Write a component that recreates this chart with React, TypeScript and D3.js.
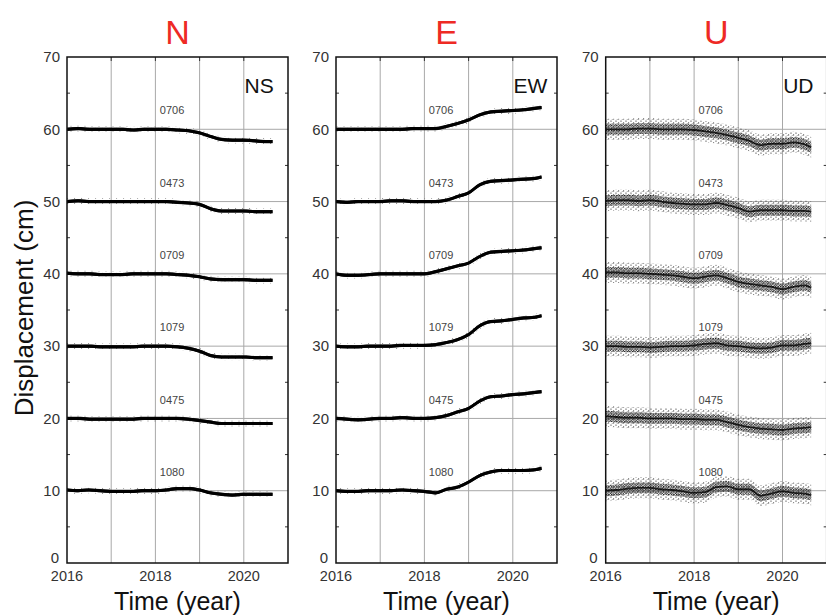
import React from "react";
import * as d3 from "d3";

// ---- data ----
const years = [2016.0, 2016.25, 2016.5, 2016.75, 2017.0, 2017.25, 2017.5, 2017.75, 2018.0, 2018.25, 2018.5, 2018.75, 2019.0, 2019.25, 2019.5, 2019.75, 2020.0, 2020.25, 2020.5, 2020.65];
const stations = ["0706", "0473", "0709", "1079", "0475", "1080"];
const offsets = [60, 50, 40, 30, 20, 10];
const panelTitles = ["N", "E", "U"];
const componentLabels = ["NS", "EW", "UD"];
const yTicks = [0, 10, 20, 30, 40, 50, 60, 70];
const yMinorTicks = [5, 15, 25, 35, 45, 55, 65];
const xTickLabels = [2016, 2018, 2020];
const xGridYears = [2017, 2018, 2019, 2020];

const nsValues = [
  [60, 60.1, 60, 60, 60, 60, 59.9, 60, 60, 60, 59.9, 59.8, 59.5, 59.0, 58.6, 58.5, 58.5, 58.4, 58.3, 58.3],
  [50, 50.1, 50, 50, 50, 50, 50, 50, 50, 50, 49.9, 49.8, 49.6, 49.0, 48.7, 48.7, 48.7, 48.6, 48.6, 48.6],
  [40.1, 40, 40, 39.9, 39.9, 39.9, 40, 40, 40, 40, 39.9, 39.8, 39.6, 39.3, 39.2, 39.2, 39.2, 39.1, 39.1, 39.1],
  [30, 30, 30, 29.9, 29.9, 29.9, 29.9, 30, 30, 30, 29.9, 29.7, 29.3, 28.7, 28.5, 28.5, 28.5, 28.4, 28.4, 28.4],
  [20, 20, 19.9, 19.9, 19.9, 19.9, 19.9, 20, 20, 20, 20, 19.9, 19.7, 19.5, 19.3, 19.3, 19.3, 19.3, 19.3, 19.3],
  [10.1, 10, 10.1, 10, 9.9, 9.9, 9.9, 10, 10, 10.1, 10.3, 10.3, 10.1, 9.7, 9.5, 9.4, 9.5, 9.5, 9.5, 9.5],
];
const ewValues = [
  [60, 60, 60, 60, 60, 60, 60, 60.1, 60.1, 60.1, 60.4, 60.8, 61.3, 62.0, 62.4, 62.5, 62.6, 62.7, 62.9, 63.0],
  [50, 49.9, 50, 50, 50, 50.1, 50.1, 50, 50, 50, 50.2, 50.7, 51.2, 52.3, 52.8, 52.9, 53.0, 53.1, 53.2, 53.4],
  [40, 39.8, 39.8, 39.9, 40, 40, 40, 40, 40, 40.3, 40.7, 41.1, 41.5, 42.4, 43.0, 43.1, 43.2, 43.3, 43.5, 43.6],
  [30, 29.9, 29.9, 30, 30, 30, 30.1, 30.1, 30.1, 30.2, 30.5, 30.9, 31.6, 32.8, 33.4, 33.5, 33.7, 33.9, 34.0, 34.2],
  [20, 19.9, 19.8, 19.9, 20, 20, 20.1, 20, 20, 20.1, 20.4, 20.9, 21.4, 22.4, 23.0, 23.1, 23.3, 23.4, 23.6, 23.7],
  [10, 9.9, 9.9, 10, 10, 10, 10.1, 10, 9.9, 9.7, 10.2, 10.5, 11.2, 12.1, 12.6, 12.8, 12.8, 12.8, 12.9, 13.1],
];
const udValues = [
  [60, 60, 60, 60.1, 60.1, 60, 60, 60, 59.9, 59.7, 59.5, 59.2, 58.8, 58.4, 57.8, 58.0, 58.0, 58.2, 57.9, 57.5],
  [50.1, 50.2, 50.2, 50.1, 50.2, 50, 49.8, 49.7, 49.6, 49.6, 49.8, 49.5, 49.1, 48.6, 48.8, 48.8, 48.8, 48.7, 48.7, 48.6],
  [40.2, 40.2, 40.1, 40.1, 40, 39.9, 39.8, 39.6, 39.4, 39.6, 39.8, 39.4, 38.9, 38.6, 38.4, 38.2, 37.9, 38.2, 38.4, 38.1],
  [30, 30, 29.9, 29.9, 29.8, 29.9, 30, 30, 30.1, 30.3, 30.4, 30.1, 30, 29.8, 29.7, 29.8, 30.1, 30.1, 30.3, 30.4],
  [20.3, 20.2, 20.1, 20.1, 20, 20, 20, 19.9, 19.9, 19.8, 19.8, 19.5, 19.1, 18.8, 18.6, 18.5, 18.4, 18.6, 18.7, 18.8],
  [10, 10.1, 10.3, 10.4, 10.4, 10.2, 10.1, 9.9, 9.7, 9.8, 10.5, 10.6, 10.2, 10.2, 9.3, 9.6, 9.9, 9.7, 9.6, 9.4],
];
// scatter half-widths (cm), per component: outer cloud, dense core
const outerSpread = [0.45, 0.45, 1.45];
const coreSpread = [0.22, 0.22, 0.75];

const allValues = [nsValues, ewValues, udValues];

// ---- layout ----
const W = 826;
const H = 616;
const panelLefts = [67, 336, 605.7];
const panelWidth = 221;
const top = 57;
const bottom = 563;
const font = "'Liberation Sans', Arial, Helvetica, sans-serif";

function Panel({ idx }: { idx: number }) {
  const left = panelLefts[idx];
  const x = d3.scaleLinear().domain([2016, 2021]).range([left, left + panelWidth]);
  const y = d3.scaleLinear().domain([0, 70]).range([bottom, top]);
  const isUD = idx === 2;
  const clipId = `clip${idx}`;
  const line = d3
    .line<number>()
    .x((_, i) => x(years[i]))
    .y((v) => y(v))
    .curve(d3.curveMonotoneX);
  const band = (half: number) =>
    d3
      .area<number>()
      .x((_, i) => x(years[i]))
      .y0((v) => y(v - half))
      .y1((v) => y(v + half))
      .curve(d3.curveMonotoneX);
  const outer = band(outerSpread[idx]);
  const core = band(coreSpread[idx]);
  const series = allValues[idx];
  return (
    <g>
      <defs>
        <clipPath id={clipId}>
          <rect x={left} y={top} width={panelWidth} height={bottom - top} />
        </clipPath>
      </defs>
      <text x={(left + left + panelWidth) / 2} y={44} textAnchor="middle" fontSize={34} fill="#ee2a24" fontFamily={font}>
        {panelTitles[idx]}
      </text>
      {/* grid */}
      {xGridYears.map((yr) => (
        <line key={"gx" + yr} x1={x(yr)} x2={x(yr)} y1={top} y2={bottom} stroke="#a8a8a8" strokeWidth={1} />
      ))}
      {yTicks.filter((t) => t > 0 && t < 70).map((t) => (
        <line key={"gy" + t} x1={left} x2={left + panelWidth} y1={y(t)} y2={y(t)} stroke="#a8a8a8" strokeWidth={1} />
      ))}
      {/* minor ticks */}
      {yMinorTicks.map((t) => (
        <g key={"mt" + t}>
          <line x1={left} x2={left + 3} y1={y(t)} y2={y(t)} stroke="#333" strokeWidth={1} />
          <line x1={left + panelWidth - 3} x2={left + panelWidth} y1={y(t)} y2={y(t)} stroke="#333" strokeWidth={1} />
        </g>
      ))}
      {xGridYears.map((yr) => (
        <line key={"tt" + yr} x1={x(yr)} x2={x(yr)} y1={top} y2={top + 4} stroke="#333" strokeWidth={1} />
      ))}
      {/* data */}
      <g clipPath={`url(#${clipId})`}>
        {series.map((vals, si) => (
          <g key={stations[si]}>
            <path d={outer(vals) || ""} fill={isUD ? "url(#speckleSparse)" : "url(#speckleFaint)"} />
            <path d={core(vals) || ""} fill={isUD ? "url(#speckleDense)" : "#111"} />
            <path
              d={line(vals) || ""}
              fill="none"
              stroke="#000"
              strokeWidth={isUD ? 1.8 : 3}
              strokeOpacity={isUD ? 0.8 : 1}
            />
          </g>
        ))}
      </g>
      {/* station labels */}
      {stations.map((s, si) => (
        <text key={"lab" + s} x={x(2018.1)} y={y(offsets[si] + 2.05)} fontSize={11} fill="#444" fontFamily={font}>
          {s}
        </text>
      ))}
      <text x={left + 177.5} y={93} fontSize={21} fill="#111" fontFamily={font}>
        {componentLabels[idx]}
      </text>
      {/* frame */}
      <rect x={left} y={top} width={panelWidth} height={bottom - top} fill="none" stroke="#111" strokeWidth={1.5} />
      {/* y tick labels */}
      {yTicks.map((t) => (
        <text
          key={"yl" + t}
          x={left - (t === 0 ? 8 : 7)}
          y={y(t) - (t === 0 ? 5 : 0)}
          dy="0.35em"
          textAnchor="end"
          fontSize={15}
          fill="#333"
          fontFamily={font}
        >
          {t}
        </text>
      ))}
      {xTickLabels.map((t) => (
        <text key={"xl" + t} x={x(t)} y={580.5} textAnchor="middle" fontSize={14.5} fill="#333" fontFamily={font}>
          {t}
        </text>
      ))}
      <text x={left + panelWidth / 2} y={610} textAnchor="middle" fontSize={25} fill="#111" fontFamily={font}>
        Time (year)
      </text>
    </g>
  );
}

export default function App() {
  return (
    <svg width={W} height={H} style={{ position: "absolute", left: 0, top: 0, background: "#fff" }}>
      <defs>
        <pattern id="speckleFaint" width="7" height="5" patternUnits="userSpaceOnUse">
          <circle cx="1" cy="1" r="0.55" fill="#666" />
          <circle cx="4.6" cy="3.4" r="0.55" fill="#888" />
        </pattern>
        <pattern id="speckleSparse" width="5" height="4" patternUnits="userSpaceOnUse">
          <circle cx="1" cy="1.1" r="0.65" fill="#333" />
          <circle cx="3.6" cy="2.9" r="0.65" fill="#444" />
          <circle cx="2.2" cy="3.7" r="0.5" fill="#666" />
        </pattern>
        <pattern id="speckleDense" width="2.6" height="2.6" patternUnits="userSpaceOnUse">
          <circle cx="0.7" cy="0.7" r="0.75" fill="#000" />
          <circle cx="2.0" cy="1.9" r="0.65" fill="#111" />
        </pattern>
      </defs>
      <rect width={W} height={H} fill="#fff" />
      {[0, 1, 2].map((i) => (
        <Panel key={i} idx={i} />
      ))}
      <text
        transform="translate(33,308) rotate(-90)"
        textAnchor="middle"
        fontSize={26}
        fill="#111"
        fontFamily={font}
      >
        Displacement (cm)
      </text>
    </svg>
  );
}
